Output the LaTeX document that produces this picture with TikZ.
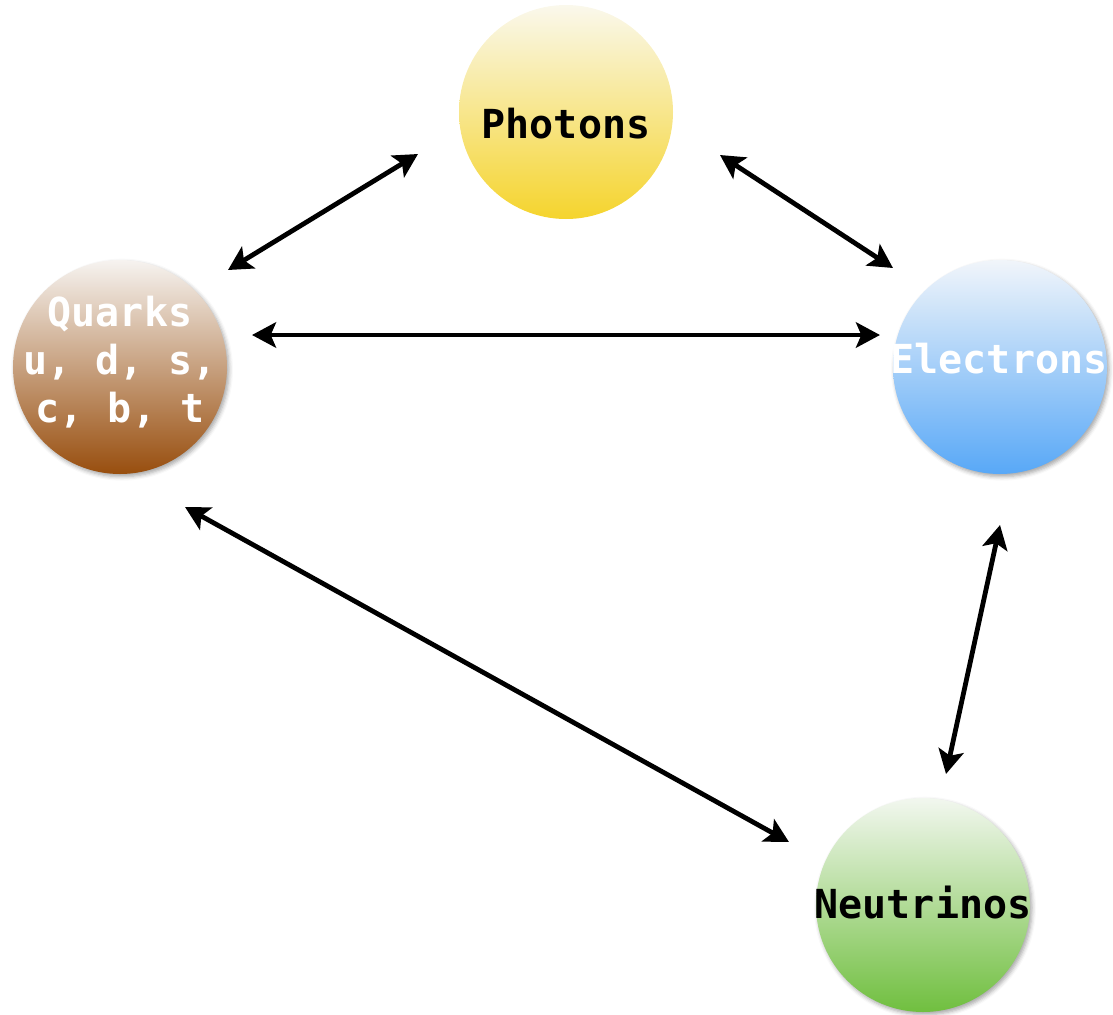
\documentclass[tikz,border=0pt]{standalone}
\usepackage{fontspec}
\setmonofont{DejaVu Sans Mono}
\usetikzlibrary{arrows.meta,shadows.blur}

\definecolor{photonTop}{RGB}{250,248,236}
\definecolor{photonBot}{RGB}{245,212,45}
\definecolor{quarkTop}{RGB}{246,243,240}
\definecolor{quarkBot}{RGB}{152,78,14}
\definecolor{electronTop}{RGB}{241,245,250}
\definecolor{electronBot}{RGB}{88,168,247}
\definecolor{neutrinoTop}{RGB}{242,247,239}
\definecolor{neutrinoBot}{RGB}{112,191,63}

\begin{document}
\begin{tikzpicture}[x=0.75pt,y=-0.75pt,
  particle/.style={circle, minimum size=160.5pt, inner sep=0pt},
  shadowed/.style={blur shadow={shadow xshift=1.5pt, shadow yshift=-2pt,
      shadow blur radius=3pt, shadow opacity=35}},
  lbl/.style={font=\ttfamily\bfseries\fontsize{30}{36}\selectfont,
      align=center, inner sep=0pt},
  tip/.tip={Stealth[length=18pt,width=19pt,inset=4pt]},
  link/.style={line width=3.6pt, tip-tip}]

\useasboundingbox (0,0) rectangle (1113,1014);

% particle discs
\node[particle, top color=photonTop, bottom color=photonBot] (photons) at (566,112) {};
\node[particle, shadowed, top color=quarkTop, bottom color=quarkBot] (quarks) at (120,367) {};
\node[particle, shadowed, top color=electronTop, bottom color=electronBot] (electrons) at (1000,367) {};
\node[particle, shadowed, top color=neutrinoTop, bottom color=neutrinoBot] (neutrinos) at (923,905) {};

% labels
\node[lbl, anchor=base] (photonsText) at (566,138) {Photons};
\node[lbl, text=white] (quarksText) at (120,362) {Quarks\\u, d, s,\\c, b, t};
\node[lbl, text=white, anchor=base] (electronsText) at (999,373) {Electrons};
\node[lbl, anchor=base] (neutrinosText) at (923,918) {Neutrinos};

% arrow ends
\coordinate (qpA) at (228,270);
\coordinate (qpB) at (418,154);
\coordinate (peA) at (720,155);
\coordinate (peB) at (893,268);
\coordinate (qeA) at (252,335);
\coordinate (qeB) at (880,335);
\coordinate (qnA) at (185,507);
\coordinate (qnB) at (789,842);
\coordinate (enA) at (1000,525);
\coordinate (enB) at (946,774);

\draw[link] (qpA) -- (qpB);
\draw[link] (peA) -- (peB);
\draw[link] (qeA) -- (qeB);
\draw[link] (qnA) -- (qnB);
\draw[link] (enA) -- (enB);
\end{tikzpicture}
\end{document}
